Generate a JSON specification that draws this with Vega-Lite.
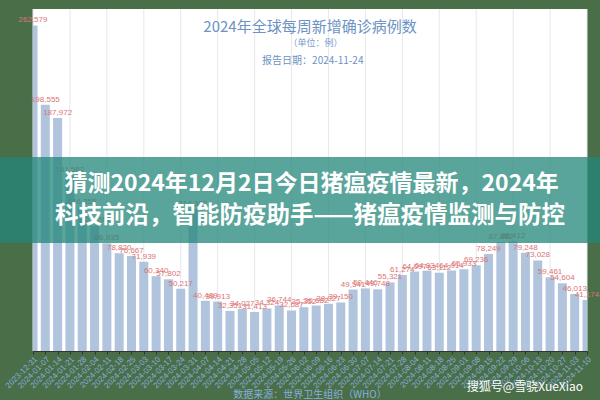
{
  "$schema": "https://vega.github.io/schema/vega-lite/v6.json",
  "width": 554,
  "height": 342,
  "autosize": {"type": "none"},
  "padding": {"left": 33, "top": 9, "right": 13, "bottom": 49},
  "background": "#4a6e48",
  "config": {
    "view": {"fill": "white", "stroke": null},
    "font": "Liberation Sans, Noto Sans CJK SC"
  },
  "datasets": {
    "weekly": [
      {"week": "2023-12-31", "cases": 262579},
      {"week": "2024-01-07", "cases": 198555},
      {"week": "2024-01-14", "cases": 187972},
      {"week": "2024-01-21", "cases": 141562},
      {"week": "2024-01-28", "cases": 116355},
      {"week": "2024-02-04", "cases": 101298},
      {"week": "2024-02-11", "cases": 86935},
      {"week": "2024-02-18", "cases": 78820},
      {"week": "2024-02-25", "cases": 76667},
      {"week": "2024-03-03", "cases": 71939},
      {"week": "2024-03-10", "cases": 60340},
      {"week": "2024-03-17", "cases": 57802},
      {"week": "2024-03-24", "cases": 50217},
      {"week": "2024-03-31", "cases": 114367},
      {"week": "2024-04-07", "cases": 40489},
      {"week": "2024-04-14", "cases": 39913},
      {"week": "2024-04-21", "cases": 32351},
      {"week": "2024-04-28", "cases": 34027},
      {"week": "2024-05-05", "cases": 31413},
      {"week": "2024-05-12", "cases": 34324},
      {"week": "2024-05-19", "cases": 36744},
      {"week": "2024-05-26", "cases": 32687},
      {"week": "2024-06-02", "cases": 35352},
      {"week": "2024-06-09", "cases": 36682},
      {"week": "2024-06-16", "cases": 38027},
      {"week": "2024-06-23", "cases": 39150},
      {"week": "2024-06-30", "cases": 49541},
      {"week": "2024-07-07", "cases": 50446},
      {"week": "2024-07-14", "cases": 49748},
      {"week": "2024-07-21", "cases": 55321},
      {"week": "2024-07-28", "cases": 61274},
      {"week": "2024-08-04", "cases": 64097},
      {"week": "2024-08-11", "cases": 64834},
      {"week": "2024-08-18", "cases": 63112},
      {"week": "2024-08-25", "cases": 64914},
      {"week": "2024-09-01", "cases": 65933},
      {"week": "2024-09-08", "cases": 69236},
      {"week": "2024-09-15", "cases": 78249},
      {"week": "2024-09-22", "cases": 87882},
      {"week": "2024-09-29", "cases": 88412},
      {"week": "2024-10-06", "cases": 79248},
      {"week": "2024-10-13", "cases": 73028},
      {"week": "2024-10-20", "cases": 59461},
      {"week": "2024-10-27", "cases": 54604},
      {"week": "2024-11-03", "cases": 46013},
      {"week": "2024-11-10", "cases": 41174}
    ],
    "gridweeks": [
      {"week": "2023-12-31"}, {"week": "2024-01-21"}, {"week": "2024-02-11"}, {"week": "2024-03-03"},
      {"week": "2024-03-24"}, {"week": "2024-04-14"}, {"week": "2024-05-05"}, {"week": "2024-05-26"},
      {"week": "2024-06-16"}, {"week": "2024-07-07"}, {"week": "2024-07-28"}, {"week": "2024-08-18"},
      {"week": "2024-09-08"}, {"week": "2024-09-29"}, {"week": "2024-10-20"}, {"week": "2024-11-10"}
    ]
  },
  "layer": [
    {
      "data": {"name": "weekly"},
      "encoding": {
        "x": {
          "field": "week",
          "type": "ordinal",
          "scale": {"type": "point", "padding": 0},
          "axis": {
            "title": null,
            "labelAngle": -45,
            "labelFontSize": 8,
            "labelColor": "#86aedc",
            "labelOverlap": false,
            "labelPadding": 1,
            "tickSize": 3,
            "tickColor": "#333333",
            "domainColor": "#333333",
            "grid": false
          }
        }
      },
      "layer": [
        {
          "data": {"name": "gridweeks"},
          "mark": {"type": "rule", "color": "#e6e8ec", "strokeWidth": 1},
          "encoding": {}
        },
        {
          "mark": {"type": "bar", "size": 9, "color": "#b0c4de", "clip": true},
          "encoding": {
            "y": {
              "field": "cases",
              "type": "quantitative",
              "scale": {"domain": [0, 275800], "nice": false},
              "axis": {
                "title": null,
                "values": [0, 50000, 100000, 150000, 200000, 250000],
                "labelExpr": "format(datum.value / 10000, '.1f') + '万'",
                "labelFontSize": 9,
                "labelColor": "#8db4e2",
                "labelPadding": 2,
                "tickSize": 3,
                "tickColor": "#333333",
                "domainColor": "#333333",
                "gridColor": "#e6e8ec"
              }
            }
          }
        },
        {
          "mark": {"type": "text", "fontSize": 8, "color": "#dc7474", "baseline": "bottom", "dy": -1},
          "encoding": {
            "y": {"field": "cases", "type": "quantitative", "scale": {"domain": [0, 275800], "nice": false}, "axis": null},
            "text": {"field": "cases", "type": "quantitative", "format": ","}
          }
        }
      ]
    },
    {
      "layer": [
        {
          "data": {"values": [{"t": "2024年全球每周新增确诊病例数"}]},
          "mark": {"type": "text", "fontSize": 15, "color": "#6d92c4", "font": "Noto Sans CJK SC", "baseline": "middle"},
          "encoding": {
            "x": {"datum": 0.5, "type": "quantitative", "scale": {"domain": [0, 1]}, "axis": null},
            "y": {"datum": 261300, "type": "quantitative", "scale": {"domain": [0, 275800], "nice": false}, "axis": null},
            "text": {"field": "t"}
          }
        },
        {
          "data": {"values": [{"t": "（单位：例）"}]},
          "mark": {"type": "text", "fontSize": 9, "color": "#7c9cc8", "font": "Noto Sans CJK SC", "baseline": "middle"},
          "encoding": {
            "x": {"datum": 0.51, "type": "quantitative"},
            "y": {"datum": 248400, "type": "quantitative"},
            "text": {"field": "t"}
          }
        },
        {
          "data": {"values": [{"t": "报告日期：2024-11-24"}]},
          "mark": {"type": "text", "fontSize": 10, "color": "#6d92c4", "font": "Noto Sans CJK SC", "baseline": "middle"},
          "encoding": {
            "x": {"datum": 0.505, "type": "quantitative"},
            "y": {"datum": 233900, "type": "quantitative"},
            "text": {"field": "t"}
          }
        },
        {
          "data": {"values": [{}]},
          "mark": {"type": "rect", "color": "#23877a", "opacity": 0.75},
          "encoding": {
            "x": {"datum": -0.06, "type": "quantitative"},
            "x2": {"datum": 1.06},
            "y": {"datum": 156450, "type": "quantitative"},
            "y2": {"datum": 87100}
          }
        },
        {
          "data": {"values": [{"t": "猜测2024年12月2日今日猪瘟疫情最新，2024年"}]},
          "mark": {"type": "text", "fontSize": 23, "fontWeight": "bold", "color": "white", "font": "Noto Sans CJK SC", "baseline": "middle"},
          "encoding": {
            "x": {"datum": 0.503, "type": "quantitative"},
            "y": {"datum": 134700, "type": "quantitative"},
            "text": {"field": "t"}
          }
        },
        {
          "data": {"values": [{"t": "科技前沿，智能防疫助手——猪瘟疫情监测与防控"}]},
          "mark": {"type": "text", "fontSize": 23.5, "fontWeight": "bold", "color": "white", "font": "Noto Sans CJK SC", "baseline": "middle"},
          "encoding": {
            "x": {"datum": 0.5, "type": "quantitative"},
            "y": {"datum": 108900, "type": "quantitative"},
            "text": {"field": "t"}
          }
        },
        {
          "data": {"values": [{"t": "搜狐号@雪骁XueXiao"}]},
          "mark": {"type": "text", "fontSize": 12, "color": "white", "font": "Noto Sans CJK SC", "baseline": "middle"},
          "encoding": {
            "x": {"datum": 0.888, "type": "quantitative"},
            "y": {"datum": -29000, "type": "quantitative"},
            "text": {"field": "t"}
          }
        },
        {
          "data": {"values": [{"t": "数据来源：世界卫生组织（WHO）"}]},
          "mark": {"type": "text", "fontSize": 10, "color": "#86aedc", "font": "Noto Sans CJK SC", "baseline": "middle"},
          "encoding": {
            "x": {"datum": 0.5, "type": "quantitative"},
            "y": {"datum": -35500, "type": "quantitative"},
            "text": {"field": "t"}
          }
        }
      ]
    }
  ],
  "resolve": {"scale": {"x": "independent"}}
}
